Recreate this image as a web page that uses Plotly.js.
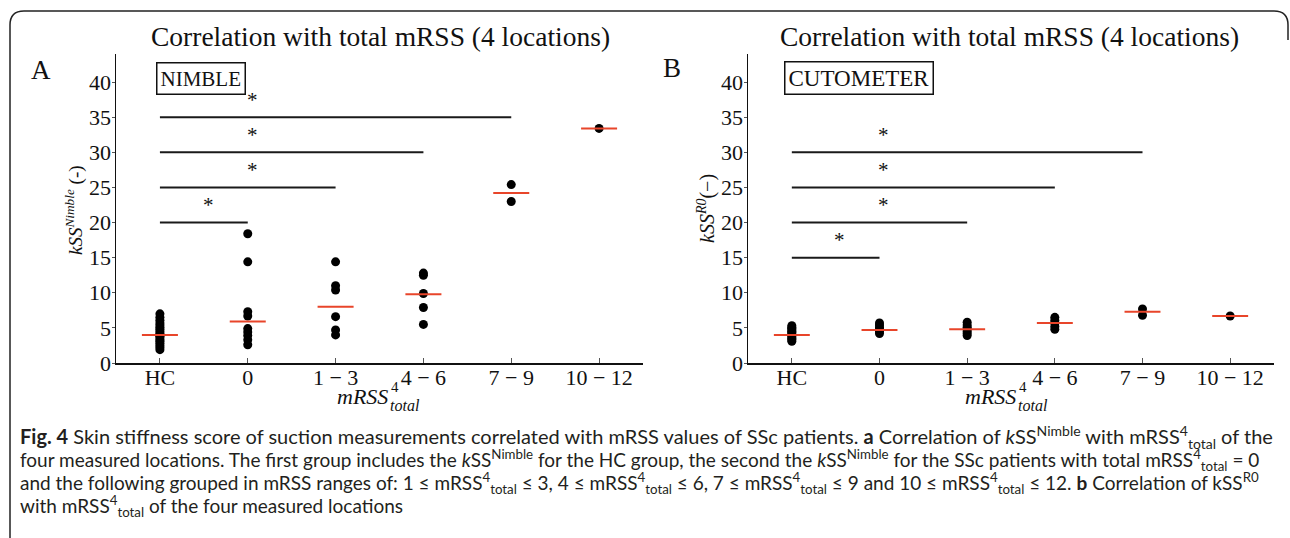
<!DOCTYPE html>
<html>
<head>
<meta charset="utf-8">
<script src="https://cdn.plot.ly/plotly-3.0.1.min.js"></script>
<style>html,body{margin:0;padding:0;background:#fff;}#chart{width:1290px;height:538px;}</style>
</head>
<body>
<div id="chart"></div>
<script>
// ---- data ----
const categories = ["HC", "0", "1 \u2212 3", "4 \u2212 6", "7 \u2212 9", "10 \u2212 12"];

// Panel A: kSS Nimble
const nimbleHC   = [1.9, 2.2, 2.5, 2.8, 3.1, 3.3, 3.6, 3.8, 4.0, 4.2, 4.5, 4.8, 5.1, 5.4, 5.7, 6.1, 6.5, 7.0];
const nimble0    = [2.6, 3.3, 3.9, 4.4, 4.9, 6.7, 7.3, 14.4, 18.4];
const nimble1to3 = [4.0, 4.7, 6.6, 10.4, 11.0, 14.4];
const nimble4to6 = [5.5, 7.9, 9.9, 12.5, 12.8];
const nimble7to9 = [23.0, 25.4];
const nimble10to12 = [33.4];
const nimbleMedians = [4.0, 5.9, 8.0, 9.8, 24.2, 33.4];
const nimbleSigLevels = [35, 30, 25, 20];
const nimbleSigEnds   = [4, 3, 2, 1];
const nimbleStarX     = [1.05, 1.05, 1.05, 0.55];
const nimbleStarY     = [37.4, 32.4, 27.5, 22.5];

// Panel B: kSS R0 (Cutometer)
const cutoHC   = [3.1, 3.3, 3.5, 3.7, 3.9, 4.1, 4.3, 4.5, 4.7, 4.9, 5.1, 5.3];
const cuto0    = [4.2, 4.5, 4.8, 5.1, 5.4, 5.7];
const cuto1to3 = [3.9, 4.2, 4.5, 4.8, 5.1, 5.4, 5.8];
const cuto4to6 = [4.8, 5.2, 5.7, 6.1, 6.5];
const cuto7to9 = [6.8, 7.7];
const cuto10to12 = [6.7];
const cutoMedians = [4.0, 4.7, 4.8, 5.7, 7.3, 6.7];
const cutoSigLevels = [30, 25, 20, 15];
const cutoSigEnds   = [4, 3, 2, 1];
const cutoStarX     = [1.04, 1.04, 1.04, 0.54];
const cutoStarY     = [32.4, 27.5, 22.5, 17.5];

const yTicks = [0, 5, 10, 15, 20, 25, 30, 35, 40];

// ---- layout helpers ----
const W = 1290, H = 538;
const fx = px => px / W;
const fy = py => 1 - py / H;
const SERIF = '"Liberation Serif", "DejaVu Serif", serif';
const SANS = 'Lato, "Open Sans", sans-serif';
const RED = '#e8452a';
const INK = '#111';

const groupsA = [nimbleHC, nimble0, nimble1to3, nimble4to6, nimble7to9, nimble10to12];
const groupsB = [cutoHC, cuto0, cuto1to3, cuto4to6, cuto7to9, cuto10to12];

function pointsTrace(groups, xa, ya) {
  const x = [], y = [];
  groups.forEach((g, i) => g.forEach(v => { x.push(i); y.push(v); }));
  return {type: 'scatter', mode: 'markers', x, y, xaxis: xa, yaxis: ya,
          marker: {color: '#000', size: 9}, hoverinfo: 'skip'};
}
function medianTrace(meds, xa, ya) {
  const x = [], y = [];
  const hw = 0.205;
  meds.forEach((m, i) => { x.push(i - hw, i + hw, null); y.push(m, m, null); });
  return {type: 'scatter', mode: 'lines', x, y, xaxis: xa, yaxis: ya,
          line: {color: RED, width: 2}, hoverinfo: 'skip'};
}
function sigTrace(levels, ends, xa, ya) {
  const x = [], y = [];
  levels.forEach((l, i) => { x.push(0, ends[i], null); y.push(l, l, null); });
  return {type: 'scatter', mode: 'lines', x, y, xaxis: xa, yaxis: ya,
          line: {color: '#1a1a1a', width: 2}, hoverinfo: 'skip'};
}

const data = [
  sigTrace(nimbleSigLevels, nimbleSigEnds, 'x', 'y'),
  pointsTrace(groupsA, 'x', 'y'),
  medianTrace(nimbleMedians, 'x', 'y'),
  sigTrace(cutoSigLevels, cutoSigEnds, 'x2', 'y2'),
  pointsTrace(groupsB, 'x2', 'y2'),
  medianTrace(cutoMedians, 'x2', 'y2')
];

function xAxis(domain, anchor) {
  return {domain, anchor, range: [-0.5, 5.5], tickmode: 'array',
          tickvals: categories.map((c, i) => i), ticktext: categories,
          showline: true, linecolor: INK, linewidth: 1.5, ticks: 'inside',
          ticklen: 5, tickcolor: '#555', tickwidth: 1, showgrid: false, zeroline: false,
          ticklabelstandoff: -6,
          tickfont: {family: SERIF, size: 22, color: INK}, fixedrange: true};
}
function yAxis(domain, anchor) {
  return {domain, anchor, range: [0, 44], tickmode: 'array', tickvals: yTicks,
          showline: true, linecolor: INK, linewidth: 1.5, ticks: 'outside',
          ticklen: 3, tickcolor: '#555', tickwidth: 1, showgrid: false, zeroline: false,
          ticklabelstandoff: -4,
          tickfont: {family: SERIF, size: 22, color: INK}, fixedrange: true};
}

const annotations = [];
function paperText(text, x, y, opts) {
  annotations.push(Object.assign({xref: 'paper', yref: 'paper', x: fx(x), y: fy(y),
    text, showarrow: false, xanchor: 'center', yanchor: 'middle',
    font: {family: SERIF, size: 20, color: INK}}, opts || {}));
}
// panel titles
paperText('Correlation with total mRSS (4 locations)', 380, 37, {font: {family: SERIF, size: 27.5, color: INK}});
paperText('Correlation with total mRSS (4 locations)', 1009, 37, {font: {family: SERIF, size: 27.5, color: INK}});
// panel letters
paperText('A', 41, 70, {font: {family: SERIF, size: 27, color: INK}});
paperText('B', 672, 68, {font: {family: SERIF, size: 27, color: INK}});
// boxes
paperText('NIMBLE', 201, 78, {bordercolor: INK, borderwidth: 1.5, borderpad: 3, font: {family: SERIF, size: 21, color: INK}});
paperText('CUTOMETER', 859, 78, {bordercolor: INK, borderwidth: 1.5, borderpad: 3, font: {family: SERIF, size: 23, color: INK}});
// y titles
paperText('<i>kSS</i><sup><i>Nimble</i></sup> (-)', 74, 210, {textangle: -90, font: {family: SERIF, size: 19, color: INK}});
paperText('<i>kSS</i><sup><i>R0</i></sup>(\u2212)', 706, 208, {textangle: -90, font: {family: SERIF, size: 20, color: INK}});
// x titles (4 stacked above "total")
[390, 1018].forEach(xm => {
  paperText('<i>mRSS</i>', xm, 396, {xanchor: 'right', font: {family: SERIF, size: 22, color: INK}});
  paperText('<i>total</i>', xm - 2, 405, {xanchor: 'left', font: {family: SERIF, size: 16, color: INK}});
  paperText('4', xm - 1, 387, {xanchor: 'left', font: {family: SERIF, size: 15, color: INK}});
});

// stars
nimbleStarX.forEach((sx, i) => annotations.push({xref: 'x', yref: 'y', x: sx, y: nimbleStarY[i],
  text: '*', showarrow: false, font: {family: SERIF, size: 21, color: INK}}));
cutoStarX.forEach((sx, i) => annotations.push({xref: 'x2', yref: 'y2', x: sx, y: cutoStarY[i],
  text: '*', showarrow: false, font: {family: SERIF, size: 21, color: INK}}));

// caption
const M = 'mRSS<sup>4</sup><sub>total</sub>';
const captionLines = [
  '<b>Fig. 4</b> Skin stiffness score of suction measurements correlated with mRSS values of SSc patients. <b>a</b> Correlation of <i>k</i>SS<sup>Nimble</sup> with ' + M + ' of the',
  'four measured locations. The first group includes the <i>k</i>SS<sup>Nimble</sup> for the HC group, the second the <i>k</i>SS<sup>Nimble</sup> for the SSc patients with total ' + M + ' = 0',
  'and the following grouped in mRSS ranges of: 1 \u2264 ' + M + ' \u2264 3, 4 \u2264 ' + M + ' \u2264 6, 7 \u2264 ' + M + ' \u2264 9 and 10 \u2264 ' + M + ' \u2264 12. <b>b</b> Correlation of kSS<sup>R0</sup>',
  'with ' + M + ' of the four measured locations'
];
const capY = [437, 460, 483, 506];
const capSize = [20, 19, 19, 19];
captionLines.forEach((t, i) => paperText(t, 18, capY[i], {xanchor: 'left',
  font: {family: SANS, size: capSize[i], color: '#231f20'}}));

const r = 14;
const frame = 'M ' + fx(10) + ',' + fy(538) + ' L ' + fx(10) + ',' + fy(11 + r) +
  ' Q ' + fx(10) + ',' + fy(11) + ' ' + fx(10 + r) + ',' + fy(11) +
  ' L ' + fx(1288 - r) + ',' + fy(11) +
  ' Q ' + fx(1288) + ',' + fy(11) + ' ' + fx(1288) + ',' + fy(11 + r) + ' L ' + fx(1288) + ',' + fy(40);

const layout = {
  width: W, height: H, margin: {l: 0, r: 0, t: 0, b: 0},
  paper_bgcolor: '#fff', plot_bgcolor: 'rgba(0,0,0,0)', showlegend: false,
  xaxis: xAxis([fx(116), fx(643)], 'y'),
  yaxis: yAxis([fy(363), fy(54)], 'x'),
  xaxis2: xAxis([fx(748), fx(1274)], 'y2'),
  yaxis2: yAxis([fy(363), fy(54)], 'x2'),
  annotations,
  shapes: [{type: 'path', xref: 'paper', yref: 'paper', path: frame,
            line: {color: '#222', width: 1.5}}]
};

Plotly.newPlot('chart', data, layout, {staticPlot: true, displayModeBar: false});
</script>
</body>
</html>
